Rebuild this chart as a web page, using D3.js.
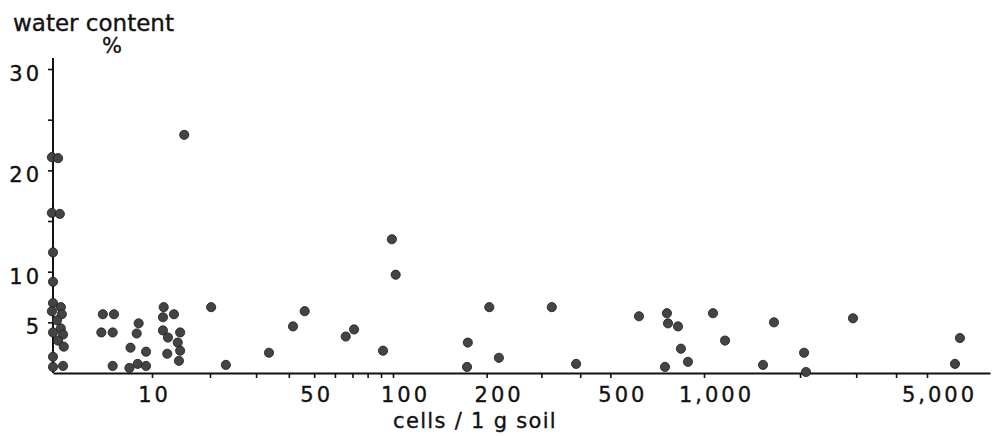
<!DOCTYPE html>
<html>
<head>
<meta charset="utf-8">
<script src="https://cdn.jsdelivr.net/npm/d3@7"></script>
<style>
  body { margin: 0; background: #fff; }
  text { font-family: "DejaVu Sans", sans-serif; fill: #111; stroke: #111; stroke-width: 0.35px; }
</style>
</head>
<body>
<div id="scatter"></div>
<script>
// cells per 1 g soil (x) and water content % (y)
const cellsCount = [
  2.96, 3.19, 2.96, 3.26, 3, 3, 3, 3.3, 2.96, 3.34, 3.15, 3, 3.3, 3.39, 3.19, 3.42, 3, 3, 3.39,
  5.5, 6.3, 5.4, 6.2, 6.2, 7.7, 7.6, 8.5, 8.3, 9.3, 8.4, 9.3,
  11.5, 11.4, 13.0, 11.4, 12.1, 14.0, 13.6, 14.0, 12.0, 13.8, 14.7,
  20.2, 23, 33.6, 41.5, 46, 66, 71, 91.6, 99, 102,
  174, 173, 204, 219, 324, 388, 618, 760, 766, 749, 825, 843, 888,
  1067, 1164, 1531, 1657, 2059, 2088, 2931,
  6160, 6393
];
const waterContent = [
  21.3, 21.2, 15.8, 15.7, 11.9, 9.0, 6.9, 6.5, 6.1, 5.8, 5.2, 4.0, 4.4, 3.8, 3.2, 2.6, 1.6, 0.6, 0.7,
  5.8, 5.8, 4.0, 4.0, 0.7, 2.5, 0.5, 4.9, 3.9, 2.1, 0.9, 0.7,
  6.5, 5.5, 5.8, 4.2, 3.5, 4.0, 3.0, 2.2, 1.9, 1.2, 23.5,
  6.5, 0.8, 2.0, 4.6, 6.1, 3.6, 4.3, 2.2, 13.2, 9.7,
  3.0, 0.6, 6.5, 1.5, 6.5, 0.9, 5.6, 5.9, 4.9, 0.6, 4.6, 2.4, 1.1,
  5.9, 3.2, 0.8, 5.0, 2.0, 0.1, 5.4,
  0.9, 3.45
];
const xTicks = [10, 20, 30, 40, 50, 60, 70, 80, 90, 100, 200, 300, 400, 500, 1000, 2000, 3000, 4000, 5000];
const xLabels = [10, 50, 100, 200, 500, 1000, 5000];
const yTicks = [5, 10, 15, 20, 25, 30];
const yLabels = [5, 10, 20, 30];

const width = 992, height = 436;

// the hand drawn log axis is not quite even, so the scale is piecewise
const xBreaks = [3, 10, 20, 100, 1000, 5000, 8000];
const xPixels = [53, 152, 210, 393, 704, 927, 990];

const svg = d3.select("#scatter")
  .append("svg")
    .attr("width", width)
    .attr("height", height);

const x = d3.scaleLog()
  .domain(xBreaks)
  .range(xPixels);

const y = d3.scaleLinear()
  .domain([0, 30])
  .range([373, 69]);

// x axis
const xAxis = svg.append("g")
  .attr("transform", `translate(0, ${y(0)})`)
  .call(d3.axisBottom(x)
    .tickValues(xTicks)
    .tickSize(5)
    .tickSizeOuter(0)
    .tickPadding(9)
    .tickFormat(d => xLabels.includes(d) ? d3.format(",")(d) : ""));
xAxis.select(".domain").attr("stroke", "#111").attr("stroke-width", 2);
xAxis.selectAll(".tick line").attr("stroke", "#111").attr("stroke-width", 1.6);
xAxis.selectAll(".tick text")
  .attr("font-size", 21)
  .attr("letter-spacing", "3px")
  .attr("dx", d => d >= 100 ? 12 : 2)
  .style("font-family", "DejaVu Sans");

// y axis
const yAxis = svg.append("g")
  .attr("transform", `translate(${x(3)}, 0)`)
  .call(d3.axisLeft(y)
    .tickValues(yTicks)
    .tickSize(5)
    .tickSizeOuter(0)
    .tickPadding(6)
    .tickFormat(d => yLabels.includes(d) ? d : ""));
yAxis.select(".domain")
  .attr("d", `M0,${y(0)}V58`)
  .attr("stroke", "#111").attr("stroke-width", 2);
yAxis.selectAll(".tick line").attr("stroke", "#111").attr("stroke-width", 1.6);
yAxis.selectAll(".tick text")
  .attr("font-size", 21)
  .attr("letter-spacing", "3px")
  .attr("dy", "0.55em")
  .style("font-family", "DejaVu Sans");

// dots
svg.append("g")
  .selectAll("circle")
  .data(cellsCount.map((c, i) => ({c: c, w: waterContent[i]})))
  .join("circle")
    .attr("cx", d => x(d.c))
    .attr("cy", d => y(d.w))
    .attr("r", 4.6)
    .attr("fill", "#444")
    .attr("stroke", "#1c1c1c")
    .attr("stroke-width", 0.8);

// axis titles
svg.append("text")
  .attr("x", 13)
  .attr("y", 31)
  .attr("font-size", 23)
  .text("water content");
svg.append("text")
  .attr("x", 112)
  .attr("y", 53)
  .attr("text-anchor", "middle")
  .attr("font-size", 21)
  .text("%");
svg.append("text")
  .attr("x", 475)
  .attr("y", 428)
  .attr("text-anchor", "middle")
  .attr("font-size", 21)
  .attr("letter-spacing", "1.3px")
  .text("cells / 1 g soil");
</script>
</body>
</html>
